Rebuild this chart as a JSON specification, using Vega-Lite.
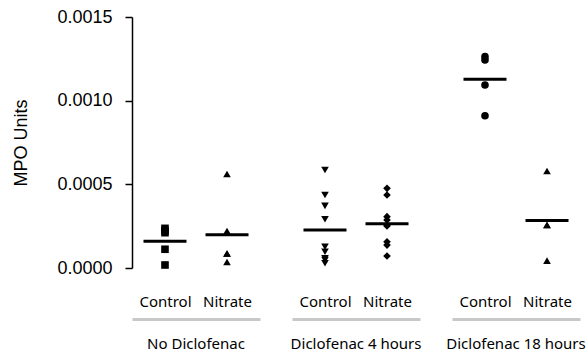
{
  "$schema": "https://vega.github.io/schema/vega-lite/v6.json",
  "padding": {"left": 12, "top": 8, "right": 2, "bottom": 5},
  "background": "white",
  "data": {"values": [
    {"group": "No Diclofenac", "treatment": "Control", "series": "No Diclofenac Control", "mpo": 0.000237},
    {"group": "No Diclofenac", "treatment": "Control", "series": "No Diclofenac Control", "mpo": 0.000211},
    {"group": "No Diclofenac", "treatment": "Control", "series": "No Diclofenac Control", "mpo": 0.000223},
    {"group": "No Diclofenac", "treatment": "Control", "series": "No Diclofenac Control", "mpo": 0.000112},
    {"group": "No Diclofenac", "treatment": "Control", "series": "No Diclofenac Control", "mpo": 0.000018},
    {"group": "No Diclofenac", "treatment": "Nitrate", "series": "No Diclofenac Nitrate", "mpo": 0.000562},
    {"group": "No Diclofenac", "treatment": "Nitrate", "series": "No Diclofenac Nitrate", "mpo": 0.000221},
    {"group": "No Diclofenac", "treatment": "Nitrate", "series": "No Diclofenac Nitrate", "mpo": 0.000087},
    {"group": "No Diclofenac", "treatment": "Nitrate", "series": "No Diclofenac Nitrate", "mpo": 0.000087},
    {"group": "No Diclofenac", "treatment": "Nitrate", "series": "No Diclofenac Nitrate", "mpo": 0.000036},
    {"group": "Diclofenac 4 hours", "treatment": "Control", "series": "Diclofenac 4 hours Control", "mpo": 0.000586},
    {"group": "Diclofenac 4 hours", "treatment": "Control", "series": "Diclofenac 4 hours Control", "mpo": 0.000436},
    {"group": "Diclofenac 4 hours", "treatment": "Control", "series": "Diclofenac 4 hours Control", "mpo": 0.000371},
    {"group": "Diclofenac 4 hours", "treatment": "Control", "series": "Diclofenac 4 hours Control", "mpo": 0.000291},
    {"group": "Diclofenac 4 hours", "treatment": "Control", "series": "Diclofenac 4 hours Control", "mpo": 0.000127},
    {"group": "Diclofenac 4 hours", "treatment": "Control", "series": "Diclofenac 4 hours Control", "mpo": 0.000097},
    {"group": "Diclofenac 4 hours", "treatment": "Control", "series": "Diclofenac 4 hours Control", "mpo": 0.000058},
    {"group": "Diclofenac 4 hours", "treatment": "Control", "series": "Diclofenac 4 hours Control", "mpo": 0.000028},
    {"group": "Diclofenac 4 hours", "treatment": "Control", "series": "Diclofenac 4 hours Control", "mpo": 0.000048},
    {"group": "Diclofenac 4 hours", "treatment": "Nitrate", "series": "Diclofenac 4 hours Nitrate", "mpo": 0.000476},
    {"group": "Diclofenac 4 hours", "treatment": "Nitrate", "series": "Diclofenac 4 hours Nitrate", "mpo": 0.000436},
    {"group": "Diclofenac 4 hours", "treatment": "Nitrate", "series": "Diclofenac 4 hours Nitrate", "mpo": 0.000307},
    {"group": "Diclofenac 4 hours", "treatment": "Nitrate", "series": "Diclofenac 4 hours Nitrate", "mpo": 0.000287},
    {"group": "Diclofenac 4 hours", "treatment": "Nitrate", "series": "Diclofenac 4 hours Nitrate", "mpo": 0.000251},
    {"group": "Diclofenac 4 hours", "treatment": "Nitrate", "series": "Diclofenac 4 hours Nitrate", "mpo": 0.000257},
    {"group": "Diclofenac 4 hours", "treatment": "Nitrate", "series": "Diclofenac 4 hours Nitrate", "mpo": 0.000157},
    {"group": "Diclofenac 4 hours", "treatment": "Nitrate", "series": "Diclofenac 4 hours Nitrate", "mpo": 0.000137},
    {"group": "Diclofenac 4 hours", "treatment": "Nitrate", "series": "Diclofenac 4 hours Nitrate", "mpo": 0.000072},
    {"group": "Diclofenac 18 hours", "treatment": "Control", "series": "Diclofenac 18 hours Control", "mpo": 0.001243},
    {"group": "Diclofenac 18 hours", "treatment": "Control", "series": "Diclofenac 18 hours Control", "mpo": 0.001263},
    {"group": "Diclofenac 18 hours", "treatment": "Control", "series": "Diclofenac 18 hours Control", "mpo": 0.001094},
    {"group": "Diclofenac 18 hours", "treatment": "Control", "series": "Diclofenac 18 hours Control", "mpo": 0.000910},
    {"group": "Diclofenac 18 hours", "treatment": "Nitrate", "series": "Diclofenac 18 hours Nitrate", "mpo": 0.000580},
    {"group": "Diclofenac 18 hours", "treatment": "Nitrate", "series": "Diclofenac 18 hours Nitrate", "mpo": 0.000257},
    {"group": "Diclofenac 18 hours", "treatment": "Nitrate", "series": "Diclofenac 18 hours Nitrate", "mpo": 0.000257},
    {"group": "Diclofenac 18 hours", "treatment": "Nitrate", "series": "Diclofenac 18 hours Nitrate", "mpo": 0.000044}
  ]},
  "facet": {
    "column": {
      "field": "group",
      "type": "nominal",
      "sort": ["No Diclofenac", "Diclofenac 4 hours", "Diclofenac 18 hours"],
      "header": {
        "title": null,
        "labelOrient": "bottom",
        "labelFont": "Noto Sans",
        "labelFontSize": 15,
        "labelColor": "black",
        "labelPadding": 18
      }
    }
  },
  "spacing": 32,
  "spec": {
    "width": 128,
    "height": 251,
    "layer": [
      {
        "mark": {"type": "point", "filled": true, "color": "black", "opacity": 1, "size": 58},
        "encoding": {
          "x": {
            "field": "treatment", "type": "nominal", "sort": ["Control", "Nitrate"],
            "scale": {"type": "point", "padding": 0.532},
            "title": null,
            "axis": {"offset": 50, "labelPadding": -25, "ticks": false, "labelAngle": 0,
                     "domainColor": "#c8c8c8", "domainWidth": 3,
                     "labelFont": "Noto Sans", "labelFontSize": 15, "labelColor": "black"}
          },
          "y": {
            "field": "mpo", "type": "quantitative",
            "scale": {"domain": [0, 0.0015], "nice": false, "zero": true},
            "title": "MPO Units",
            "axis": {"values": [0, 0.0005, 0.001, 0.0015], "format": ".4f", "grid": false,
                     "domainColor": "black", "domainWidth": 1.5, "tickColor": "black", "tickWidth": 1.5, "tickSize": 7,
                     "labelFont": "Liberation Sans", "labelFontSize": 18, "labelColor": "black", "labelPadding": 13,
                     "titleFont": "Liberation Sans", "titleFontSize": 18, "titleFontWeight": "normal", "titleColor": "black", "titlePadding": 26}
          },
          "shape": {
            "field": "series", "type": "nominal", "legend": null,
            "scale": {
              "domain": ["No Diclofenac Control", "No Diclofenac Nitrate", "Diclofenac 4 hours Control", "Diclofenac 4 hours Nitrate", "Diclofenac 18 hours Control", "Diclofenac 18 hours Nitrate"],
              "range": ["square", "triangle-up", "triangle-down", "diamond", "circle", "triangle-up"]
            }
          }
        }
      },
      {
        "mark": {"type": "tick", "color": "black", "thickness": 3, "size": 43, "opacity": 1},
        "encoding": {
          "x": {"field": "treatment", "type": "nominal", "sort": ["Control", "Nitrate"]},
          "y": {"field": "mpo", "type": "quantitative", "aggregate": "mean"}
        }
      }
    ]
  },
  "config": {
    "view": {"stroke": null},
    "axis": {"grid": false}
  }
}
